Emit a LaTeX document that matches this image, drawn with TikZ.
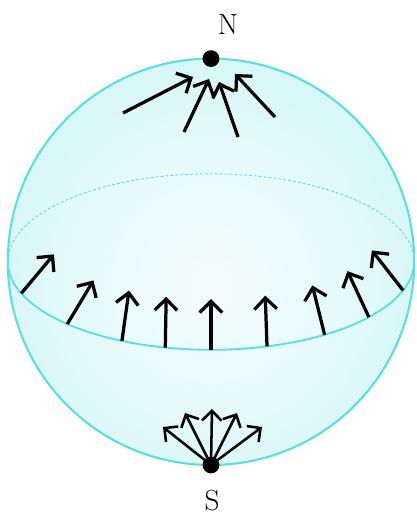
\documentclass[tikz,border=0pt]{standalone}
\usepackage{xcolor}
\usepackage{tikz}
\usetikzlibrary{arrows.meta, calc}
\definecolor{sphline}{RGB}{90,222,228}
\definecolor{sphouter}{RGB}{184,240,242}
\definecolor{sphinner}{RGB}{244,253,253}
\pgfdeclareradialshading{sphshade}{\pgfpoint{0bp}{-3bp}}{%
  color(0bp)=(sphinner); color(16bp)=(sphinner!75!sphouter);
  color(50bp)=(sphouter); color(75bp)=(sphouter)}
\tikzset{
  vec/.style={-{Straight Barb[length=8pt, width=16pt]}, line width=2.3pt, color=black},
  smallvec/.style={-{Straight Barb[length=7pt, width=14pt]}, line width=1.8pt, color=black},
  pole/.style={circle, fill=black, inner sep=0pt, minimum size=0.42cm},
  polelabel/.style={font=\huge},
  rim/.style={line width=1.5pt, color=sphline},
  front/.style={line width=1.3pt, color=sphline},
  back/.style={line width=0.6pt, color=sphline, dash pattern=on 2pt off 1.5pt}
}

\begin{document}
\begin{tikzpicture}
  \useasboundingbox (0,0) rectangle (10.425,12.975);
  \coordinate (c) at (5.275,6.43);

  % Sphere
  \shade[shading=sphshade] (c) circle (5.08);

  % Equator
  \draw[back] ($(c)+(5.08,0)$) arc[start angle=0, end angle=180, x radius=5.08, y radius=2.2];
  \draw[front] ($(c)+(-5.08,0)$) arc[start angle=180, end angle=360, x radius=5.08, y radius=2.2];
  \draw[rim] (c) circle (5.08);

  % Poles
  \node[pole] (np) at ($(c)+(0,5.08)$) {};
  \node[pole] (sp) at ($(c)+(0,-5.08)$) {};
  \node[polelabel] (nl) at (5.7,12.35) {N};
  \node[polelabel] (sl) at (5.3,0.45) {S};

  % Vectors along the equator
  \foreach \t/\d [count=\i] in {201/50, 225/59, 244/82, 257/89, 270/90, 286/92, 304/104, 321/115, 341/128}{
    \coordinate (e\i) at ($(c)+(\t:5.08cm and 2.2cm)$);
    \draw[vec] (e\i) -- ++(\d:1.27);
  }

  % Vectors near the north pole
  \draw[vec] (3.075,10.15) -- (4.825,11.05);
  \draw[vec] (4.6,9.675) -- (5.225,11.0);
  \draw[vec] (5.95,9.55) -- (5.475,10.925);
  \draw[vec] (6.875,10.05) -- (5.875,11.125);

  % Vectors leaving the south pole
  \foreach \h in {(4.075,2.3), (4.625,2.65), (5.3,2.75), (5.925,2.65), (6.55,2.3)}
    \draw[smallvec] (sp.center) -- \h;
\end{tikzpicture}
\end{document}
